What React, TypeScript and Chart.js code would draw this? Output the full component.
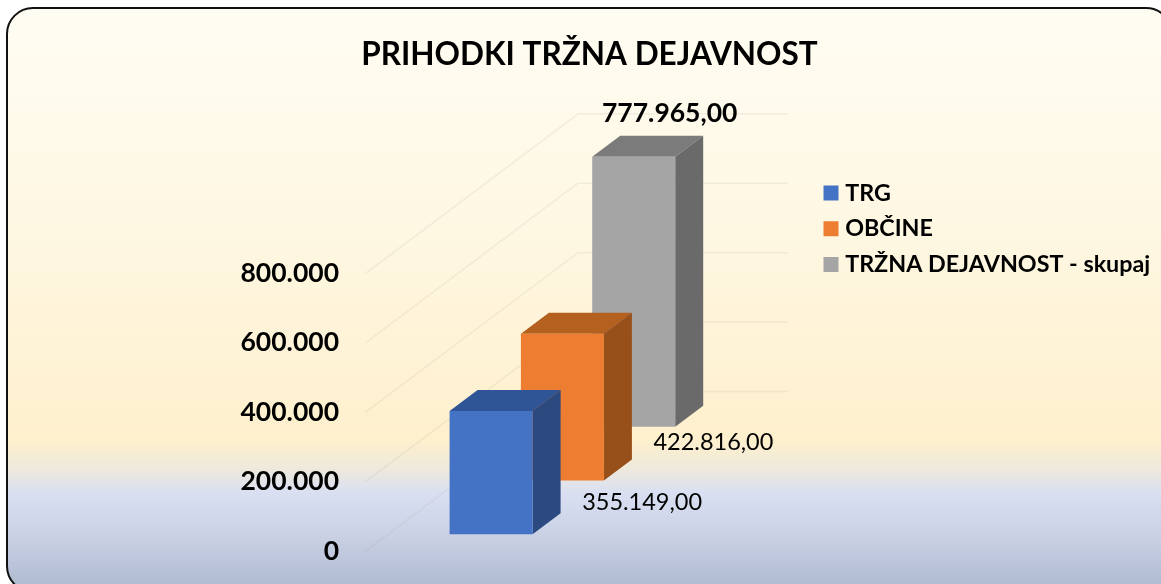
import React, { useEffect, useRef } from "react";
import { Chart, registerables } from "chart.js";

Chart.register(...registerables);

const TITLE = "PRIHODKI TRŽNA DEJAVNOST";
const CATEGORIES = ["2023"];
const TRG_VALUES = [355149];
const OBCINE_VALUES = [422816];
const SKUPAJ_VALUES = [777965];
const SERIES_NAMES = ["TRG", "OBČINE", "TRŽNA DEJAVNOST - skupaj"];
const GRID_VALUES = [0, 200000, 400000, 600000, 800000];

const FRONT = ["#4472C4", "#ED7D31", "#A5A5A5"];
const TOP = ["#2F5597", "#B4601F", "#7B7B7B"];
const SIDE = ["#2C4A80", "#98501A", "#6A6A6A"];

const FONT = "Lato, 'Open Sans', sans-serif";
const DEPTH_X = 28;
const DEPTH_Y = 21;
const GROUP_CENTER = 562.4;
const STEP_X = 71.3;
const STEP_Y = 53.8;
const FIRST_LIFT = 16.7;
const GRID_BACK_X = 578;
const GRID_RIGHT = 788;
const LABEL_OFFSET = [
  { x: 151, y: 91, bold: false, size: 23.5 },
  { x: 151, y: 109, bold: false, size: 23.5 },
  { x: 36, y: -43, bold: true, size: 26.5 },
];

const de2 = new Intl.NumberFormat("de-DE", { minimumFractionDigits: 2, maximumFractionDigits: 2 });
const de0 = new Intl.NumberFormat("de-DE");

function shift(chart: any, i: number) {
  const a = chart.chartArea;
  return { dx: GROUP_CENTER - (a.left + a.right) / 2, dy: -(FIRST_LIFT + STEP_Y * i) };
}

const scenePlugin = {
  id: "scene",
  afterLayout(chart: any) {
    const l = chart.legend;
    l.left = 816;
    l.top = 168.85;
  },
  beforeDraw(chart: any) {
    const { ctx, width, height } = chart;
    ctx.save();
    ctx.clearRect(0, 0, width, height);
    ctx.fillStyle = "#ffffff";
    ctx.fillRect(0, 0, width, height);
    const g = ctx.createLinearGradient(0, 8, 0, 592);
    const stop = (y: number, c: string) => g.addColorStop((y - 8) / 584, c);
    stop(8, "#FFFDF3");
    stop(230, "#FEF7E2");
    stop(440, "#FEF0CD");
    stop(470, "#EDE9DD");
    stop(492, "#DAE0F2");
    stop(530, "#CDD3E7");
    stop(592, "#ABB8CC");
    ctx.beginPath();
    ctx.roundRect(7, 8, 1165, 584, 26);
    ctx.fillStyle = g;
    ctx.fill();
    ctx.lineWidth = 2;
    ctx.strokeStyle = "#111111";
    ctx.stroke();
    ctx.restore();
  },
  beforeDatasetsDraw(chart: any) {
    const { ctx, chartArea, scales } = chart;
    ctx.save();
    ctx.strokeStyle = "rgba(140,135,120,0.11)";
    ctx.lineWidth = 1.5;
    GRID_VALUES.forEach((v) => {
      const y = scales.y.getPixelForValue(v) + 0.5;
      ctx.beginPath();
      ctx.moveTo(chartArea.left, y);
      ctx.lineTo(GRID_BACK_X, y - 160);
      ctx.lineTo(GRID_RIGHT, y - 160);
      ctx.stroke();
    });
    ctx.restore();
  },
  beforeDatasetDraw(chart: any, args: any) {
    const { ctx } = chart;
    const i = args.index;
    const s = shift(chart, i);
    ctx.save();
    ctx.translate(s.dx, s.dy);
    const el = chart.getDatasetMeta(i).data[0];
    const l = el.x - el.width / 2;
    const r = el.x + el.width / 2;
    ctx.fillStyle = TOP[i];
    ctx.beginPath();
    ctx.moveTo(l, el.y);
    ctx.lineTo(l + DEPTH_X, el.y - DEPTH_Y);
    ctx.lineTo(r + DEPTH_X, el.y - DEPTH_Y);
    ctx.lineTo(r, el.y);
    ctx.closePath();
    ctx.fill();
    ctx.fillStyle = SIDE[i];
    ctx.beginPath();
    ctx.moveTo(r, el.y);
    ctx.lineTo(r + DEPTH_X, el.y - DEPTH_Y);
    ctx.lineTo(r + DEPTH_X, el.base - DEPTH_Y);
    ctx.lineTo(r, el.base);
    ctx.closePath();
    ctx.fill();
  },
  afterDatasetDraw(chart: any) {
    chart.ctx.restore();
  },
  afterDatasetsDraw(chart: any) {
    const { ctx, data } = chart;
    ctx.save();
    ctx.fillStyle = "#000000";
    ctx.textAlign = "center";
    ctx.textBaseline = "middle";
    data.datasets.forEach((d: any, i: number) => {
      const el = chart.getDatasetMeta(i).data[0];
      const s = shift(chart, i);
      const o = LABEL_OFFSET[i];
      ctx.font = `${o.bold ? "bold " : ""}${o.size}px ${FONT}`;
      ctx.fillText(de2.format(d.data[0]), el.x + s.dx + o.x, el.y + s.dy + o.y);
    });
    ctx.restore();
  },
};

export default function App() {
  const ref = useRef<HTMLCanvasElement>(null);
  useEffect(() => {
    const chart = new Chart(ref.current as HTMLCanvasElement, {
      type: "bar",
      data: {
        labels: CATEGORIES,
        datasets: [TRG_VALUES, OBCINE_VALUES, SKUPAJ_VALUES].map((values, i) => ({
          label: SERIES_NAMES[i],
          data: values,
          backgroundColor: FRONT[i],
          clip: false as any,
          barPercentage: 83 / STEP_X,
          categoryPercentage: (c: any) => (3 * STEP_X) / c.chart.chartArea.width,
        })),
      },
      options: {
        responsive: false,
        animation: false,
        layout: { padding: { left: 18, right: 0, bottom: 33, top: 0 } },
        scales: {
          x: { display: false },
          y: {
            min: 0,
            max: 800000,
            afterFit(scale: any) {
              scale.width = 347;
            },
            grid: { display: false, drawTicks: true, tickLength: 26 },
            border: { display: false },
            ticks: {
              stepSize: 200000,
              padding: 0,
              color: "#000000",
              font: { family: FONT, size: 26.5, weight: "bold" },
              callback: (v: any) => de0.format(Number(v)),
            },
          },
        },
        plugins: {
          tooltip: { enabled: false },
          title: {
            display: true,
            text: TITLE,
            color: "#000000",
            font: { family: FONT, size: 31.5, weight: "bold", lineHeight: 1.2 },
            padding: { top: 36, bottom: 199.5 },
          },
          legend: {
            display: true,
            position: "right",
            align: "start",
            labels: {
              boxWidth: 5,
              boxHeight: 5,
              padding: 12.5,
              color: "#000000",
              font: { family: FONT, size: 23.3, weight: "bold" },
              generateLabels: (c: any) =>
                c.data.datasets.map((d: any, i: number) => ({
                  text: d.label,
                  fillStyle: FRONT[i],
                  strokeStyle: FRONT[i],
                  lineWidth: 10,
                  datasetIndex: i,
                  fontColor: "#000000",
                })),
            },
          },
        },
      },
      plugins: [scenePlugin],
    } as any);
    return () => chart.destroy();
  }, []);
  return (
    <div style={{ position: "fixed", left: 0, top: 0, width: 1161, height: 584 }}>
      <canvas ref={ref} width={1161} height={584} style={{ display: "block" }} />
    </div>
  );
}
